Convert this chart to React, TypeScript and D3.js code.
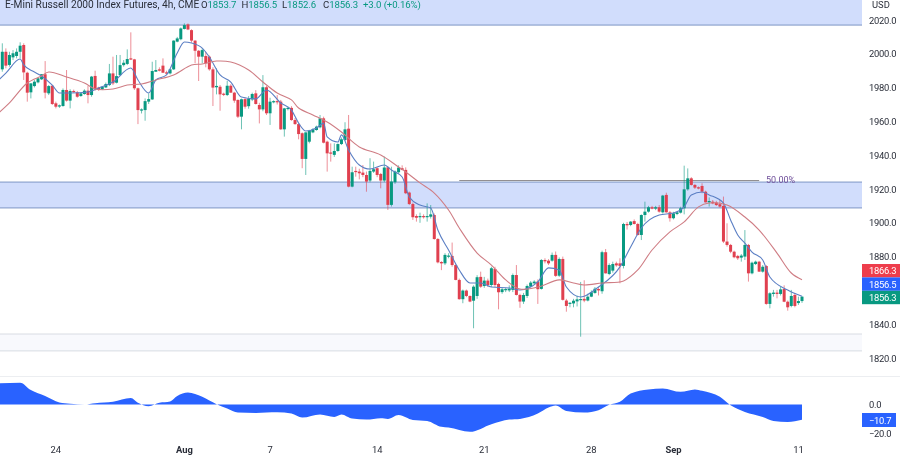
import React from "react";
import * as d3 from "d3";

const opens = [
1990.8,2001.2,1993.4,1997.9,1998.7,2001.2,2005.2,1988.8,1977.2,1980.9,
1983.1,1984.9,1987.9,1976.6,1981.1,1970.7,1968.9,1969.1,1978.6,1972.3,
1978,1977.2,1975,1976.2,1978.2,1975.6,1986.9,1980,1979,1980.1,
1981.5,1988.4,1982.9,1987.4,1993.3,1994,1997.3,1996.7,1979.6,1966.4,
1966.7,1971.7,1973,1989.4,1990.8,1993,1989,1988.4,1990.8,2007.2,
2008.6,2014.7,2017.4,2014,2007.8,2001.8,1998.3,1998.7,1998.3,1990.8,
1980.2,1980.5,1976.4,1975.6,1981.1,1977,1972.7,1962.8,1973.2,1969,
1973,1976.6,1969.7,1967.1,1980.2,1964.8,1971.5,1972,1971.7,1955.3,
1967.5,1968,1960.8,1958.4,1953,1937.8,1948,1953.5,1954.9,1956.5,
1961.8,1948,1941.6,1940.2,1942.5,1946.6,1949,1955.7,1921.4,1930.7,
1930.3,1929.7,1928.3,1925,1930.3,1932.3,1928.9,1925,1932.8,1910.6,
1924,1929.9,1932.3,1931.3,1917.9,1911.1,1904,1903.3,1904,1903.5,
1903.6,1904.6,1890.4,1876.8,1876,1880,1880.4,1875,1866.2,1854.8,
1859.9,1856.7,1853.9,1856.7,1868,1862.6,1865.8,1863.2,1872.7,1863.8,
1859,1860.3,1860,1860.3,1869.1,1857.3,1853.4,1856.7,1862.2,1864.2,
1865.2,1860.9,1878,1877.6,1877.6,1881,1868.7,1878.6,1854,1852,
1852.3,1853.5,1854.2,1855,1854,1856.3,1858.5,1860.8,1859.5,1882.6,
1869.7,1871.7,1876,1876,1874.5,1899.3,1898.7,1901,1899.3,1892.8,
1904.6,1906.6,1909.2,1908.4,1909.2,1906.2,1916.5,1906.2,1902.7,1905.2,
1906,1908.6,1919.8,1926.3,1922.4,1921,1921.8,1918.4,1912.1,1912.5,
1912,1911,1910,1888.9,1886.9,1882.9,1880.4,1879.4,1880,1886.9,
1870.1,1875.6,1877,1871.1,1874.4,1852,1857.9,1858.7,1857.9,1860.8,
1853.3,1850.8,1857.3,1852.5,1853.7,
];
const highs = [
2006.2,2003.2,2001.2,2002.2,2003.2,2006.8,2006.2,1989.4,1982.5,1984.5,
1986,1988,1995.7,1981.5,1981.5,1971.7,1970,1979.5,1990.4,1979,
1978.8,1978,1977,1979,1981,1986.9,1990,1980.5,1981,1983,
1994,1998.3,1999.3,1999.3,1996.3,2002.6,2012.7,1997,1980,1967.7,
1973.6,1976.6,1995.3,1996.3,1992,1997.3,1990,1991,2008,2010,
2015.6,2018,2018,2014.5,2008,2002.2,2003.2,2001.2,1999,1992,
1991.4,1981.5,1977,1984,1982,1977.5,1973,1973.5,1974,1975,
1977,1978.5,1971,1987.4,1981,1974,1972.5,1975.6,1972.7,1968,
1968.5,1969,1962,1959,1953.5,1953.5,1955,1956,1957.5,1963.8,
1962.8,1948.6,1947,1947,1947,1950.5,1959.5,1963.8,1933.2,1933.2,
1932,1934.2,1930.3,1938.2,1936.2,1932.8,1929.5,1939.2,1933.5,1933.2,
1931,1934,1934,1932.8,1918.5,1912,1905,1906,1905,1911.5,
1910.5,1905.5,1891,1877.3,1882,1882,1888.3,1875.5,1867,1860.5,
1860.5,1857,1863,1869,1871.1,1868,1867,1874,1874,1864.5,
1861.5,1861.5,1863,1870,1875,1858,1858.5,1863.5,1865.5,1866,
1866.5,1878.5,1879,1878.5,1882.4,1883,1879.5,1880,1855,1853,
1855,1857,1865,1866,1858,1860,1862,1862,1883.5,1884.5,
1876,1877,1877,1879,1900,1900.5,1901,1902,1900,1905,
1912.5,1910,1910,1910,1910.5,1916.5,1917.8,1907,1906.5,1906.6,
1909.5,1933.8,1932.2,1927,1923,1921.5,1923.4,1919,1915,1913.5,
1913,1913.5,1915.5,1899.7,1887.5,1883.5,1881,1881.5,1895.7,1887.5,
1877,1877.6,1877.5,1875,1875,1858.9,1860.3,1860.3,1862,1863,
1854,1860.3,1858.5,1856.3,1856.5,
];
const lows = [
1989.4,1991.4,1992.4,1996.3,1997.3,1997.3,1984.5,1971.7,1973.6,1980.1,
1982.5,1984.5,1973.6,1975.6,1969.7,1967.7,1968,1968.7,1971.7,1967.7,
1976.9,1974,1974.6,1975.8,1970.7,1974.6,1978.2,1978,1978.6,1979.8,
1980.9,1981.5,1982.5,1986.8,1992.4,1993.3,1996.3,1978.6,1958.4,1964.7,
1960.4,1970.3,1972.7,1989.4,1989.6,1988.8,1987.8,1987.8,1990.4,2006.8,
2008,2014.4,2014,2006.6,1994.4,1983.9,1994.4,1992,1990,1969.1,
1976,1966.3,1975,1975,1977,1971,1962,1955.3,1967.5,1967.5,
1972,1970,1958.8,1966,1963.8,1957.9,1970.7,1970,1955,1951,
1966.5,1960.4,1958,1949.4,1932.3,1928.3,1947,1953,1954.5,1955.9,
1947,1930.3,1936.2,1939,1942,1946,1948.5,1921,1921,1927.3,
1925.7,1927,1918.4,1924,1929.5,1927,1920.4,1924,1907.6,1909.6,
1923,1929,1931,1917,1910.5,1901.7,1900.7,1900,1902.5,1900.7,
1902.5,1890,1876,1872,1875,1879,1874,1866,1854.5,1852.4,
1856,1853,1837.6,1855,1861.5,1861.5,1862,1862,1862,1848.8,
1858,1859,1859,1859,1857,1849.7,1852,1855.5,1861.8,1863.5,
1852,1860.5,1876,1875,1877,1868,1868,1854,1847.4,1850,
1850,1850.5,1832.6,1853,1853.5,1856,1858,1857,1858,1870,
1869,1870.5,1874,1864.2,1873,1896,1898,1899,1892.5,1889.8,
1900.7,1906,1908,1907.5,1906,1905.5,1906,1900.7,1902,1904.5,
1905.5,1905,1919,1922,1920,1919.8,1917.5,1912,1909.6,1911,
1910,1909,1888,1885.9,1882,1879,1878,1877,1878,1865.2,
1869.5,1875,1871,1870.5,1851.5,1849.4,1856.3,1855.3,1857,1853,
1848,1850,1850,1851.4,1852.6,
];
const closes = [
2001.2,1993,1999.3,2000.3,2001.2,2004.8,1989,1977,1982.5,1983.5,
1985.5,1987.9,1977,1980.9,1970.3,1968.7,1969.5,1978.6,1972.3,1978,
1977.5,1974.6,1976.6,1978.2,1975.6,1986.5,1979,1978.6,1980.5,1982.1,
1988.4,1982.5,1986.8,1993.3,1994.7,1996.9,1996.7,1979.6,1966.7,1967.1,
1972,1973.2,1989.8,1990.4,1990,1988.8,1988.6,1990.8,2007.8,2009.1,
2015,2017,2014.4,2007.8,2001.8,1998.3,2002.2,1994.4,1990.8,1980,
1981,1976,1975.8,1981.1,1977,1972.3,1962.8,1973.1,1968.7,1973.4,
1976.2,1970.3,1967.1,1980.2,1964.8,1971.7,1972,1971.5,1955.3,1967.7,
1968,1960.8,1958.4,1952.5,1937.8,1953.5,1954.5,1955.3,1956.9,1961.8,
1947.4,1941.1,1941,1942.5,1946.6,1949.4,1955.3,1921.4,1929.9,1930.1,
1929.3,1928.3,1924.4,1930.7,1931.7,1928.3,1925,1932.7,1910.6,1924.4,
1930.3,1932.7,1931.3,1917.5,1911.1,1903.3,1903,1904,1903.3,1904,
1905,1890.4,1876.6,1876,1881,1880.6,1875,1866.2,1854.8,1859.9,
1856.7,1853.4,1862.2,1867.8,1862.2,1865.8,1863.2,1873.1,1863.2,1858.9,
1860.7,1860.8,1861,1869.1,1857.3,1853.4,1857.3,1862.6,1864.6,1865.2,
1860.7,1878,1877.2,1876,1881,1868.6,1878.6,1854.4,1850.8,1852.7,
1853.9,1854.7,1854.9,1854,1856.3,1858.9,1861,1860,1882.6,1870.1,
1875,1875.6,1874.8,1874.5,1899.3,1898.5,1900.7,1899.3,1892.8,1904.6,
1906.6,1909.2,1908.4,1909.2,1906.6,1916.1,1906.2,1902.7,1905.6,1906.2,
1908.6,1919.8,1926.3,1922.4,1920.8,1920.4,1918.4,1912.1,1912.9,1911.5,
1910.5,1909.6,1888.9,1886.9,1882.9,1879.6,1879,1880.6,1886.9,1870.1,
1876.4,1877,1871.1,1874,1852,1858.3,1858.7,1857.9,1860.6,1853.3,
1850,1856.7,1850.8,1853.7,1856.3,
];

const blueBars = [-1,1,5,6,9,11,14,16,19,24,27,31,36,38,41,43,46,49,51,53,56,58,61,64,67,71,74,78,81,83,85,88,90,91,94,95,97,100,103,107,109,112,114,117,120,122,125,128,131,134,137,142,145,150,153,156,158,162,167,173,176,179,184,188,191,193,196,198,202,204,206,208,210,213,215,220,224];
const blueValues = [1984.5,1988.6,1996.9,1993.4,1989.2,1986.9,1981.5,1976.8,1976.8,1977.4,1979.8,1983.3,1991.6,1984.5,1976.8,1984.5,1987.5,2000.5,2007,2006.4,2003.4,1998.1,1987.5,1983.3,1974.4,1973.3,1978.6,1970.9,1966.7,1959,1954.3,1956.1,1959,1950.8,1947.8,1952,1943.1,1934.2,1931.8,1934.2,1931.2,1927.1,1915.3,1910.5,1908.8,1895.7,1883.9,1872.1,1864.4,1864.4,1862,1861.4,1860.2,1865,1873.3,1872.1,1862,1856.1,1862,1873.9,1885.7,1896.9,1904.6,1905.8,1909.4,1916.5,1918.2,1916.5,1911.7,1901.7,1892.8,1888,1882.7,1878,1867.9,1860.2,1856.5];
const redBars = [-1,2,7,11,13,18,23,26,31,35,39,43,48,53,56,60,64,69,73,77,81,83,87,91,95,100,106,111,113,117,121,125,128,133,137,141,145,150,156,160,163,168,174,178,182,187,191,195,198,203,208,212,217,221,224];
const redValues = [1965,1970.9,1982.7,1986.9,1989.2,1986.3,1982.7,1979.2,1979.2,1981.5,1982.1,1984.5,1987.5,1993.4,1994,1995.7,1995.1,1990.4,1983.3,1976.8,1972.7,1967.9,1963.8,1959.6,1953.7,1944.9,1940.1,1933,1930.1,1923.6,1917.6,1907.6,1896.9,1882.1,1875,1866.2,1860.8,1862,1866.2,1864.4,1863.2,1864.4,1865.6,1872.1,1883.9,1894.6,1900.5,1909.4,1911.7,1910.5,1903.4,1895.7,1882.1,1870.3,1866.3];

const oscBars = [-1,5,8,12,16,19,23,26,31,36,38,41,44,47,49,52,56,60,63,66,71,77,81,84,89,93,95,98,102,106,108,111,115,119,123,125,131,137,142,145,150,153,155,158,163,167,170,173,176,181,185,190,194,196,201,204,208,213,216,220,224];
const oscValues = [14.8,15.3,10.1,5.9,1.4,0.5,0,0.9,1.9,4.5,1.2,-1.2,1.2,2.1,5.9,8.4,5.4,0.2,-2.8,-5.6,-5.9,-5.4,-6.3,-9.2,-7,-8.7,-7,-9.9,-10.6,-9.6,-10.1,-7.3,-10.8,-11.5,-15.7,-16.2,-19.2,-13.8,-10.6,-10.1,-6.3,-2.1,-0.7,-4.5,-5.6,-4,-0.2,1.9,7.7,10.6,11.3,8.9,10.6,9.6,5.4,-0.5,-5.2,-8.7,-11.5,-12.2,-10.7];

const priceTicks = [2020,2000,1980,1960,1940,1920,1900,1880,1840,1820];
const oscTicks = [0,-20];
const dateLabels = ["24","Aug","7","14","21","28","Sep","11"];
const dateBars = [15,51,75,105,135,165,188,223];
const boldDates = ["Aug","Sep"];
const zones = [[2040,2017],[1924.1,1908.8]];
const lowerZone = [1834.2,1824.2];
const fibPrice = 1925;
const fibBars = [128,212];
const legendTitle = "E-Mini Russell 2000 Index Futures, 4h, CME";
const legendKeys = ["O","H","L","C",""];
const legendValues = ["1853.7","1856.5","1852.6","1856.3","+3.0 (+0.16%)"];
const legendSlots = [201,241.5,282,323,363];
const priceBadges = [[1866.3,"#ee3d4c"],[1856.5,"#2962ff"],[1856.3,"#089981"]] as const;

const GREEN = "#089981";
const RED = "#e0404f";
const FONT = "Roboto, 'Open Sans', sans-serif";
const TICK_SIZE = 9.4;
const TICK_SPACING = -0.28;

export default function App() {
  const x = d3.scaleLinear().domain([0, 224]).range([2.3, 802]);
  const y = d3.scaleLinear().domain([2020, 1820]).range([20, 358]);
  const o = d3.scaleLinear().domain([0, -20]).range([404.5, 433]);
  const axisX = 862;
  const blueLine = d3.line<number>().x((_, i) => x(blueBars[i])).y(d => y(d)).curve(d3.curveMonotoneX);
  const redLine = d3.line<number>().x((_, i) => x(redBars[i])).y(d => y(d)).curve(d3.curveCatmullRom.alpha(0.5));
  const oscArea = d3.area<number>().x((_, i) => x(oscBars[i])).y0(o(0)).y1(d => o(d)).curve(d3.curveMonotoneX);
  const bodyW = 3;
  const badgeH = 13.4;
  return (
    <svg width={900} height={456} viewBox="0 0 900 456"
      style={{ position: "absolute", left: 0, top: 0, background: "#fff", filter: "blur(0.35px)" }}
      fontFamily={FONT}>
      {zones.map((z, i) => (
        <g key={i}>
          <rect x={0} y={y(z[0])} width={axisX} height={y(z[1]) - y(z[0])} fill="#d1ddfc" />
          {i > 0 && <line x1={0} x2={axisX} y1={y(z[0])} y2={y(z[0])} stroke="#7d96c4" strokeWidth={1} />}
          <line x1={0} x2={axisX} y1={y(z[1])} y2={y(z[1])} stroke="#7d96c4" strokeWidth={1} />
        </g>
      ))}
      <rect x={0} y={y(lowerZone[0])} width={axisX} height={y(lowerZone[1]) - y(lowerZone[0])} fill="#f8f9fd" />
      <line x1={0} x2={axisX} y1={y(lowerZone[0])} y2={y(lowerZone[0])} stroke="#d8dce3" />
      <line x1={0} x2={axisX} y1={y(lowerZone[1])} y2={y(lowerZone[1])} stroke="#d8dce3" />
      <line x1={0} x2={900} y1={376.5} y2={376.5} stroke="#eceef1" />

      <line x1={x(fibBars[0])} x2={x(fibBars[1])} y1={y(fibPrice)} y2={y(fibPrice)} stroke="#8d8a8c" strokeWidth={1} />
      <text x={766} y={183} fontSize={9} fill="#6f4f9a">50.00%</text>

      {closes.map((c, i) => {
        const up = c >= opens[i];
        const col = up ? GREEN : RED;
        const top = y(Math.max(opens[i], c));
        const bot = y(Math.min(opens[i], c));
        return (
          <g key={i}>
            <line x1={x(i)} x2={x(i)} y1={y(highs[i])} y2={y(lows[i])} stroke={col} strokeWidth={0.9} strokeOpacity={0.65} />
            <rect x={x(i) - bodyW / 2} y={top} width={bodyW} height={Math.max(bot - top, 1.2)} fill={col} />
          </g>
        );
      })}
      <path d={blueLine(blueValues) ?? ""} fill="none" stroke="#5b7fc4" strokeWidth={1.1} />
      <path d={redLine(redValues) ?? ""} fill="none" stroke="#cf7d84" strokeWidth={1.1} />
      <path d={oscArea(oscValues) ?? ""} fill="#2962ff" />

      <text x={5} y={8} fontSize={10.2} fill="#2a2e39">{legendTitle}</text>
      {legendKeys.map((k, i) => (
        <text key={i} x={legendSlots[i]} y={8} fontSize={9.6} letterSpacing={-0.1} fill={GREEN}>
          <tspan fill="#2a2e39">{k}</tspan>{legendValues[i]}
        </text>
      ))}
      <text x={872} y={8} fontSize={TICK_SIZE} fill="#2a2e39">USD</text>

      {priceTicks.map(t => (
        <text key={t} x={869} y={y(t) + 3.5} fontSize={TICK_SIZE} letterSpacing={TICK_SPACING} fill="#2a2e39">{t.toFixed(1)}</text>
      ))}
      {priceBadges.map(([v, c], i) => (
        <g key={i}>
          <rect x={axisX} y={264 + i * 13.4} width={38} height={badgeH} fill={c} />
          <text x={869} y={264 + i * 13.4 + 10.2} fontSize={TICK_SIZE} letterSpacing={TICK_SPACING} fill="#fff">{v.toFixed(1)}</text>
        </g>
      ))}
      {oscTicks.map(t => (
        <text key={t} x={869} y={o(t) + 3.5} fontSize={TICK_SIZE} letterSpacing={TICK_SPACING} fill="#2a2e39">
          {t === 0 ? "0.0" : "\u2212" + Math.abs(t).toFixed(1)}
        </text>
      ))}
      <rect x={axisX} y={413} width={34} height={14} fill="#2962ff" />
      <text x={869} y={423.5} fontSize={TICK_SIZE} letterSpacing={TICK_SPACING} fill="#fff">{"\u221210.7"}</text>

      {dateLabels.map((d, i) => (
        <text key={d} x={x(dateBars[i])} y={452.5} textAnchor="middle" fontSize={TICK_SIZE}
          fontWeight={boldDates.includes(d) ? 700 : 400} fill="#2a2e39">{d}</text>
      ))}
    </svg>
  );
}
